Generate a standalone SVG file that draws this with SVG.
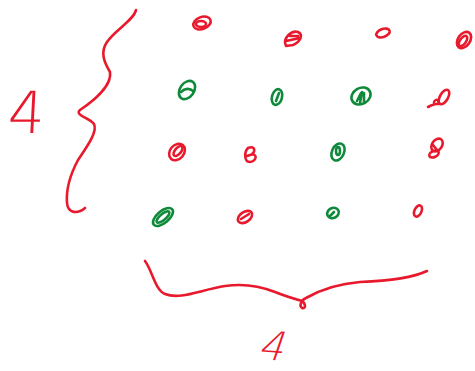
<svg xmlns="http://www.w3.org/2000/svg" width="475" height="371" viewBox="0 0 475 371">
<style>
.r{fill:none;stroke:#e8192c;stroke-width:2.6;stroke-linecap:round;stroke-linejoin:round}
.g{fill:none;stroke:#0e8a3a;stroke-width:2.6;stroke-linecap:round;stroke-linejoin:round}
.num{font-family:"DejaVu Sans","Liberation Sans",Arial,sans-serif;fill:#e8192c;font-weight:200}
</style>
<rect width="475" height="371" fill="#fff"/>
<g id="brace-left">
<path class="r" d="M136,10 C134,20 115,30 107,42 C100,52 104,62 110,72 C112,85 95,100 80,110 C74,115 90,118 94,124 C98,132 86,148 78,160 C70,175 66,190 67,203 C68,214 78,214 85,208"/>
</g>
<g id="brace-bottom">
<path class="r" d="M145,261 C152,270 155,290 165,294 C180,300 200,290 225,286 C245,283 260,286 275,292 C285,296 295,299 302,301 C306,304 306,309 302,308 C299,306 301,300 306,298 C320,290 335,284 360,282 C385,281 410,279 427,271"/>
</g>
<g id="label-left">
<text class="num" x="0" y="0" font-size="58" transform="translate(7,133) skewX(-3)">4</text>
</g>
<g id="label-bottom">
<text class="num" x="0" y="0" font-size="40" transform="translate(257,359) rotate(4) skewX(-15)">4</text>
</g>
<g id="d1"><ellipse class="r" cx="202" cy="23" rx="9" ry="6" transform="rotate(-20 202 23)"/><ellipse class="r" cx="201" cy="24" rx="5" ry="3"/></g>
<g id="d2"><path class="r" d="M286,46 C282,38 292,30 298,32 C304,35 300,42 293,45 Z M286,41 L300,38 M290,36 L298,36"/></g>
<g id="d3"><ellipse class="r" cx="383" cy="33" rx="7" ry="4" transform="rotate(-20 383 33)"/></g>
<g id="d4"><ellipse class="r" cx="464" cy="40" rx="6" ry="9" transform="rotate(35 464 40)"/><ellipse class="r" cx="463" cy="41" rx="3" ry="6" transform="rotate(35 463 41)"/></g>
<g id="d5"><ellipse class="g" cx="187" cy="90" rx="7" ry="10" transform="rotate(35 187 90)"/><path class="g" d="M181,92 C185,88 190,88 193,91"/></g>
<g id="d6"><ellipse class="g" cx="277" cy="97" rx="5" ry="8" transform="rotate(15 277 97)"/><path class="g" d="M276,101 L279,93"/></g>
<g id="d7"><ellipse class="g" cx="361" cy="96" rx="10" ry="8" transform="rotate(-30 361 96)"/><path class="g" d="M360,103 L362,92 M364,102 L364,93 M357,101 L361,93"/></g>
<g id="d8"><ellipse class="r" cx="444" cy="97" rx="4" ry="8" transform="rotate(30 444 97)"/><path class="r" d="M428,107 C432,105 436,103 440,104 M434,102 C436,98 440,100 438,104"/></g>
<g id="d9"><ellipse class="r" cx="177" cy="152" rx="7" ry="9" transform="rotate(40 177 152)"/><ellipse class="r" cx="178" cy="151" rx="3" ry="6" transform="rotate(40 178 151)"/></g>
<g id="d10"><path class="r" d="M248,148 C256,145 255,152 252,154 C258,155 256,161 250,162 C244,162 244,152 248,148 Z M247,156 L253,154"/></g>
<g id="d11"><ellipse class="g" cx="338" cy="152" rx="6" ry="9" transform="rotate(25 338 152)"/><ellipse class="g" cx="338" cy="151" rx="2" ry="4"/></g>
<g id="d12"><ellipse class="r" cx="437" cy="145" rx="5" ry="7" transform="rotate(35 437 145)"/><ellipse class="r" cx="434" cy="154" rx="5" ry="3" transform="rotate(-25 434 154)"/><path class="r" d="M433,145 L437,150"/></g>
<g id="d13"><ellipse class="g" cx="163" cy="217" rx="6" ry="12" transform="rotate(50 163 217)" stroke-width="4"/><ellipse class="g" cx="163" cy="217" rx="3" ry="8" transform="rotate(50 163 217)" stroke-width="3.5"/></g>
<g id="d14"><ellipse class="r" cx="245" cy="217" rx="8" ry="5" transform="rotate(-35 245 217)" stroke-width="3"/><path class="r" d="M241,219 L249,214"/></g>
<g id="d15"><ellipse class="g" cx="333" cy="213" rx="6" ry="5" transform="rotate(-25 333 213)"/><path class="g" d="M330,216 L334,212"/></g>
<g id="d16"><ellipse class="r" cx="418" cy="211" rx="3.5" ry="6" transform="rotate(25 418 211)"/></g>
</svg>
